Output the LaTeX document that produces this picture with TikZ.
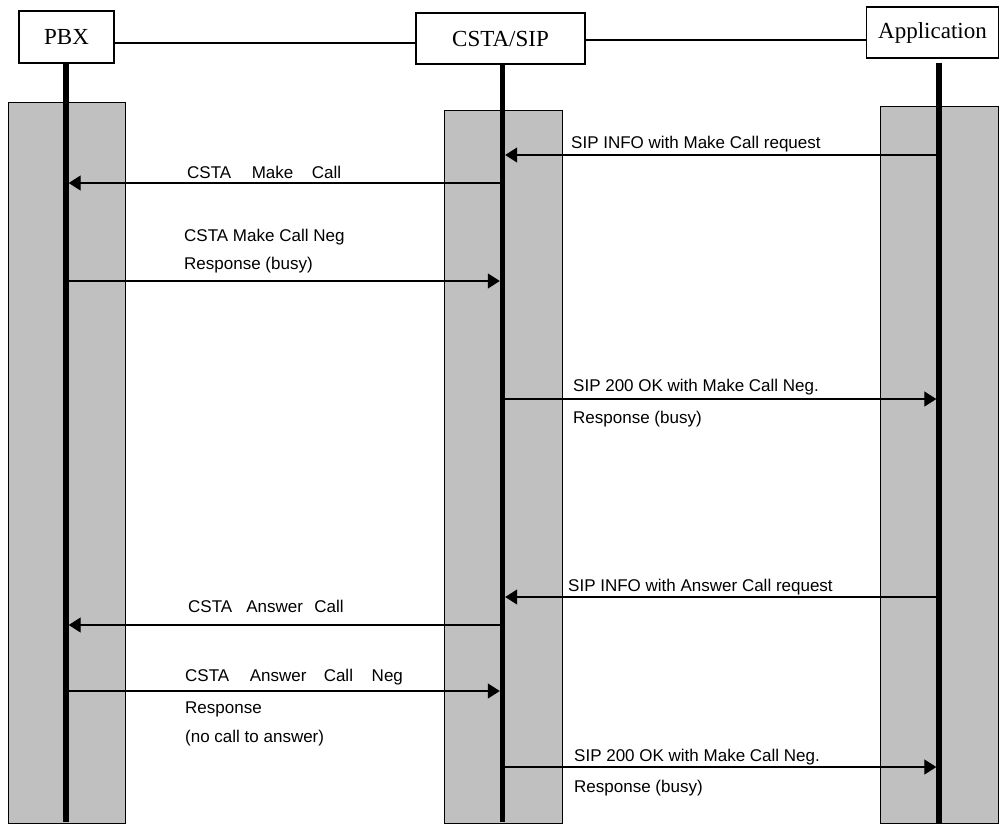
\documentclass[tikz,border=0pt]{standalone}
\usepackage{fontspec}
\setmainfont{Liberation Serif}
\newfontfamily\labelfont{Liberation Sans}
\usetikzlibrary{arrows.meta}
\definecolor{bandgray}{RGB}{192,192,192}
\begin{document}
\begin{tikzpicture}[x=1pt,y=-1pt,
  entity/.style={draw,line width=1.2pt,fill=white,inner sep=0pt,
    font=\fontsize{23}{26}\selectfont},
  band/.style={fill=bandgray,draw=black,line width=0.9pt},
  life/.style={line width=5.5pt},
  link/.style={line width=1.2pt},
  msg/.style={line width=1.3pt,-{Triangle[length=12pt,width=15pt]},
    shorten >=2.7pt},
  lbl/.style={anchor=base west,inner sep=0pt,
    font=\labelfont\fontsize{17}{20}\selectfont}
]
\useasboundingbox (0,0) rectangle (1000,825);

% activation bands behind each lifeline
\path[band] (8,102) rectangle (125,823);
\path[band] (444,110) rectangle (562,823);
\path[band] (880,106) rectangle (998,823);

% entities
\node[entity,minimum width=95pt,minimum height=52pt] (pbx) at (66.5,37) {PBX};
\node[entity,minimum width=169pt,minimum height=51pt] (csta) at (500.5,38.5) {CSTA/SIP};
\node[entity,minimum width=132pt,minimum height=51pt] (app) at (932.5,32.5) {Application};

% lifelines
\coordinate (pbxT) at (66,63);   \coordinate (pbxB) at (66,822);
\coordinate (cstaT) at (502.5,64); \coordinate (cstaB) at (502.5,822);
\coordinate (appT) at (939,63);  \coordinate (appB) at (939,823);
\draw[life] (pbxT) -- (pbxB);
\draw[life] (cstaT) -- (cstaB);
\draw[life] (appT) -- (appB);

% links between entity boxes
\coordinate (top1) at (0,43);
\coordinate (top2) at (0,40);
\draw[link] (pbx.east |- top1) -- (csta.west |- top1);
\draw[link] (csta.east |- top2) -- (app.west |- top2);

% message rows
\coordinate (m1) at (0,155);
\coordinate (m2) at (0,183);
\coordinate (m3) at (0,281);
\coordinate (m4) at (0,399);
\coordinate (m5) at (0,597);
\coordinate (m6) at (0,625);
\coordinate (m7) at (0,691);
\coordinate (m8) at (0,767);

\draw[msg] (appT |- m1) -- (cstaT |- m1);
\draw[msg] (cstaT |- m2) -- (pbxT |- m2);
\draw[msg] (pbxT |- m3) -- (cstaT |- m3);
\draw[msg] (cstaT |- m4) -- (appT |- m4);
\draw[msg] (appT |- m5) -- (cstaT |- m5);
\draw[msg] (cstaT |- m6) -- (pbxT |- m6);
\draw[msg] (pbxT |- m7) -- (cstaT |- m7);
\draw[msg] (cstaT |- m8) -- (appT |- m8);

% message labels
\node[lbl] (t1) at (571,148) {SIP INFO with Make Call request};
\node[lbl] (t2) at (187,178) {CSTA\hspace{20.5pt}Make\hspace{18.5pt}Call};
\node[lbl] (t3a) at (184,241) {CSTA Make Call Neg};
\node[lbl] (t3b) at (184,269) {Response (busy)};
\node[lbl] (t4a) at (573,391) {SIP 200 OK with Make Call Neg.};
\node[lbl] (t4b) at (573,423) {Response (busy)};
\node[lbl] (t5) at (568,591) {SIP INFO with Answer Call request};
\node[lbl] (t6) at (188,612) {CSTA\hspace{14pt}Answer\hspace{11.5pt}Call};
\node[lbl] (t7a) at (185,681) {CSTA\hspace{20.5pt}Answer\hspace{17.3pt}Call\hspace{18.7pt}Neg};
\node[lbl] (t7b) at (185,713) {Response};
\node[lbl] (t7c) at (185,742) {(no call to answer)};
\node[lbl] (t8a) at (574,761) {SIP 200 OK with Make Call Neg.};
\node[lbl] (t8b) at (574,792) {Response (busy)};
\end{tikzpicture}
\end{document}
